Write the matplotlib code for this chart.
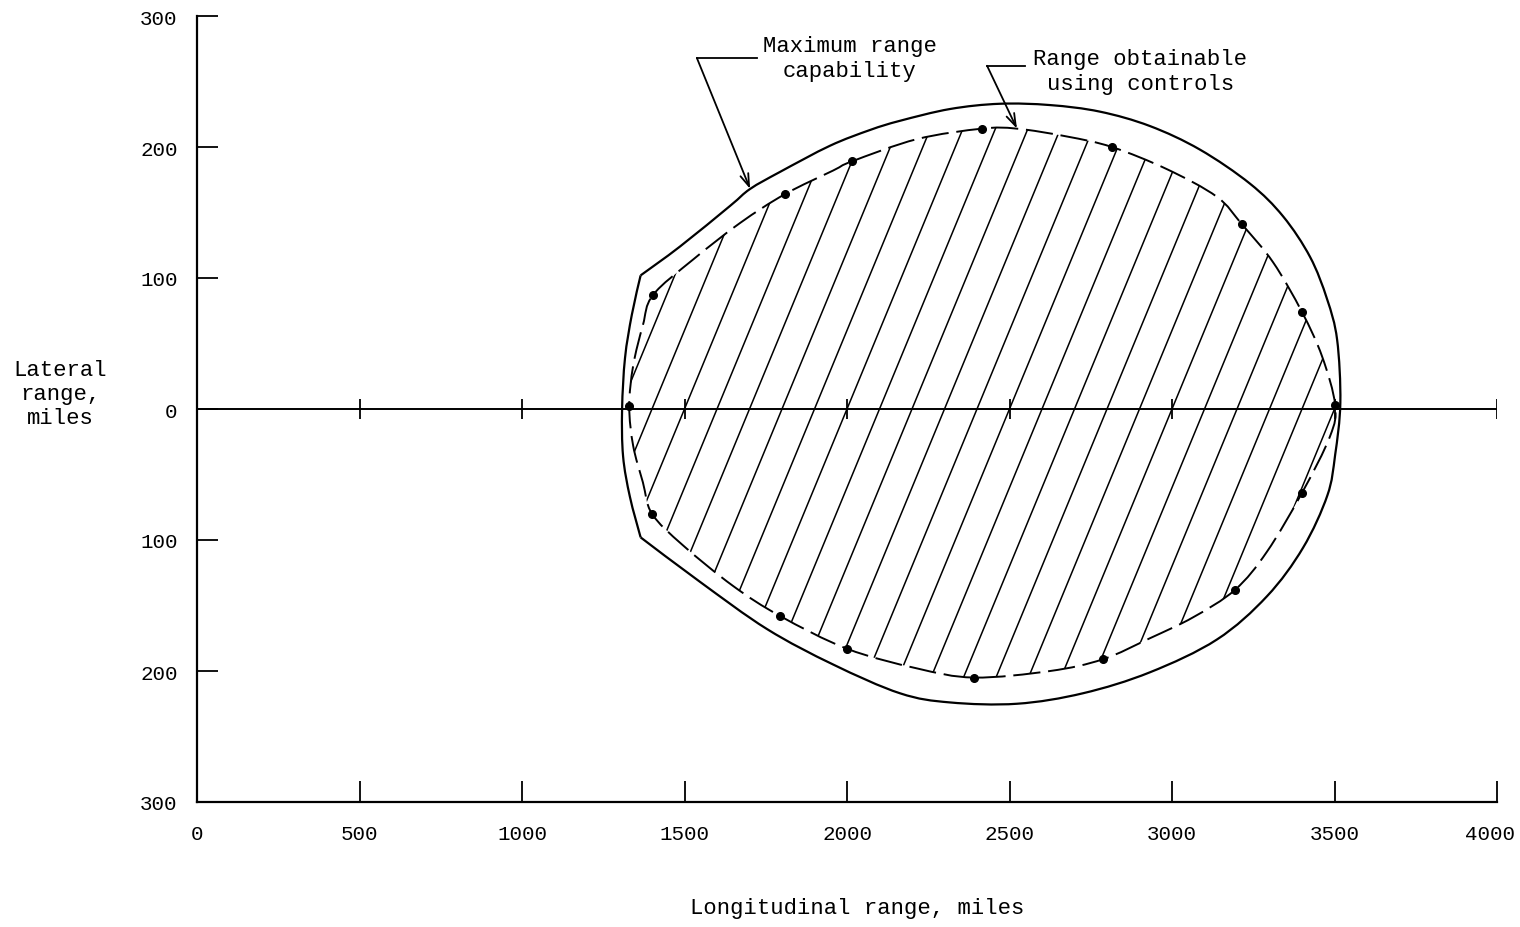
import numpy as np
import matplotlib
matplotlib.use("Agg")
import matplotlib.pyplot as plt
from matplotlib.path import Path
from matplotlib.patches import PathPatch
from matplotlib.transforms import ScaledTranslation

plt.rcParams['font.family'] = ['Liberation Mono', 'DejaVu Sans Mono']

# Maximum range capability (outer boundary), miles
# main arc, from the upper-left corner round to the lower-left corner
outer_x = [1365, 1486, 1640, 1702, 1794, 1948, 2071, 2163, 2317, 2470, 2625, 2778,
           2932, 3086, 3240, 3342, 3425, 3477, 3508, 3518, 3502, 3478, 3403,
           3292, 3138, 2932, 2726, 2523, 2317, 2163, 1957, 1754, 1548, 1365]
outer_y = [102, 124, 155, 168, 181, 201, 213, 220, 229, 233, 232, 227,
           216, 198, 172, 147, 116, 84, 53, 5, -35, -66, -106,
           -143, -176, -201, -217, -225, -224, -217, -195, -168, -132, -98]
# left edge between the two corners
side_x = [1365, 1332, 1311, 1308, 1317, 1338, 1365]
side_y = [-98, -67, -36, 0, 39, 72, 102]

# Range obtainable using controls (dashed boundary, closed)
ctrl_x = [1403, 1526, 1671, 1809, 1957, 2015, 2215, 2415, 2523, 2677, 2815, 2985,
          3138, 3215, 3311, 3400, 3462, 3502, 3486, 3400, 3292, 3194, 3065, 2932,
          2788, 2625, 2391, 2215, 2000, 1794, 1649, 1495, 1400, 1372, 1342, 1330,
          1342, 1372]
ctrl_y = [87, 114, 142, 164, 182, 189, 206, 214, 214, 208, 200, 183,
          162, 141, 112, 74, 40, 3, -21, -64, -109, -138, -159, -175,
          -191, -200, -205, -198, -183, -158, -135, -104, -80, -56, -28, 2,
          33, 64]

# computed points (dots)
pt_x = [1403, 1330, 1400, 1794, 2000, 2391, 2788, 3194, 3400, 3502, 3400, 3215, 2815, 2415, 2015, 1809]
pt_y = [87, 2, -80, -158, -183, -205, -191, -138, -64, 3, 74, 141, 200, 214, 189, 164]

xticks = [0, 500, 1000, 1500, 2000, 2500, 3000, 3500, 4000]
yticks = [-300, -200, -100, 0, 100, 200, 300]
ylabels = ['300', '200', '100', '0', '100', '200', '300']


def smooth_path(xs, ys, closed=False):
    # cubic Bezier segments through the read points (Catmull-Rom tangents)
    p = np.column_stack([xs, ys]).astype(float)
    n = len(p)
    if closed:
        p = np.vstack([p, p[:1]])
    verts = [p[0]]
    codes = [Path.MOVETO]
    m = len(p)
    for i in range(m - 1):
        if closed:
            p0 = p[(i - 1) % n]
            p3 = p[(i + 2) % n]
        else:
            p0 = p[i - 1] if i > 0 else p[i]
            p3 = p[i + 2] if i + 2 < m else p[i + 1]
        p1, p2 = p[i], p[i + 1]
        verts += [p1 + (p2 - p0) / 6, p2 - (p3 - p1) / 6, p2]
        codes += [Path.CURVE4] * 3
    return Path(verts, codes)


fig = plt.figure(figsize=(15.2, 9.28), dpi=100)
ax = fig.add_axes([197/1520, 1-803/928, 1300/1520, 786/928])

ax.set_xlim(0, 4000)
ax.set_ylim(-300, 300)
ax.spines['top'].set_visible(False)
ax.spines['right'].set_visible(False)
for s in ('left', 'bottom'):
    ax.spines[s].set_linewidth(1.6)

ax.set_xticks(xticks)
ax.set_xticklabels([str(v) for v in xticks])
ax.set_yticks(yticks)
ax.set_yticklabels(ylabels)
ax.tick_params(direction='in', length=15, width=1.3, labelsize=15, color='black')
ax.tick_params(axis='x', pad=16)
ax.tick_params(axis='y', pad=14)
# keep the last x label inside the figure
last = ax.get_xticklabels()[-1]
last.set_transform(last.get_transform() + ScaledTranslation(-5/72, 0, fig.dpi_scale_trans))

# zero line with cross ticks
ax.plot([0, 4000], [0, 0], color='black', lw=1.4)
ax.vlines(xticks[1:], -8, 8, color='black', lw=1.3)

# hatching inside the control region
ctrl_path = smooth_path(ctrl_x, ctrl_y, closed=True)
region = PathPatch(ctrl_path, facecolor='none', edgecolor='none')
ax.add_patch(region)
for x0 in np.arange(1300, 3700, 100):
    xs = np.array([x0 - 450, x0 + 450])
    ln, = ax.plot(xs, 0.6 * (xs - x0), color='black', lw=1.1)
    ln.set_clip_path(region)

ax.add_patch(PathPatch(smooth_path(outer_x, outer_y), facecolor='none', edgecolor='black', lw=1.6))
ax.add_patch(PathPatch(smooth_path(side_x, side_y), facecolor='none', edgecolor='black', lw=1.6))
ax.add_patch(PathPatch(ctrl_path, facecolor='none', edgecolor='black', lw=1.4,
                       linestyle=(0, (14, 4))))
ax.plot(pt_x, pt_y, 'o', color='black', markersize=5.5)

# annotations
ax.plot([1538, 1723], [268, 268], color='black', lw=1.3)
ax.annotate('', xy=(1702, 168), xytext=(1538, 268),
            arrowprops=dict(arrowstyle='->,head_length=0.9,head_width=0.3', color='black', lw=1.3,
                            shrinkA=0, shrinkB=0))
ax.text(2009, 268, 'Maximum range\ncapability', ha='center', va='center',
        multialignment='center', fontsize=16, linespacing=1.2)

ax.plot([2431, 2548], [262, 262], color='black', lw=1.3)
ax.annotate('', xy=(2523, 214), xytext=(2431, 262),
            arrowprops=dict(arrowstyle='->,head_length=0.9,head_width=0.3', color='black', lw=1.3,
                            shrinkA=0, shrinkB=0))
ax.text(2902, 258, 'Range obtainable\nusing controls', ha='center', va='center',
        multialignment='center', fontsize=16, linespacing=1.2)

ax.set_xlabel('Longitudinal range, miles', fontsize=16, va='center')
ax.xaxis.set_label_coords(0.508, -0.134)
ax.set_ylabel('Lateral\nrange,\nmiles', fontsize=16, rotation=0, ha='center', va='center',
              multialignment='center')
ax.yaxis.set_label_coords(-0.105, 0.52)

fig.savefig('out.png', dpi=100, facecolor='white')
